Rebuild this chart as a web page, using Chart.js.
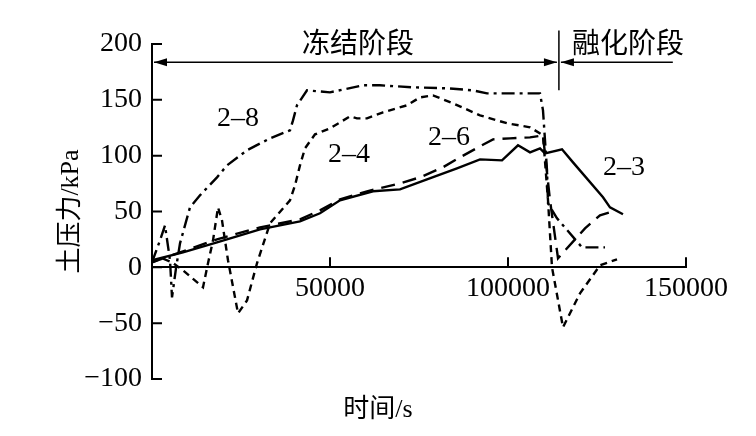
<!DOCTYPE html>
<html>
<head>
<meta charset="utf-8">
<script src="https://cdn.jsdelivr.net/npm/chart.js@4/dist/chart.umd.min.js"></script>
<style>
  html, body { margin: 0; padding: 0; background: #fff; }
</style>
</head>
<body>
<canvas id="chart" width="756" height="436"></canvas>
<script>
// time (s) and earth pressure (kPa)
const T_23 = [0, 8700, 18260, 30340, 38760, 41570, 47190, 52810, 62080, 69660, 77250, 85670, 92140, 98320, 102810, 106180, 108990, 110390, 115170, 118260, 126690, 128650, 132300];
const P_23 = [6.3, 13.4, 22.4, 34.0, 39.4, 41.2, 48.4, 60.0, 68.1, 69.8, 78.8, 88.7, 96.7, 95.8, 109.3, 103.0, 106.6, 102.1, 105.7, 94.0, 62.7, 53.7, 47.5];

const T_26 = [0, 8710, 18260, 30340, 41570, 47190, 52810, 60390, 69660, 75280, 81740, 86520, 92140, 95790, 100560, 106180, 109830, 111800, 114050, 121630, 125840, 128650];
const P_26 = [4.5, 14.3, 25.1, 35.8, 43.0, 51.0, 60.9, 68.1, 75.2, 80.6, 89.6, 98.5, 108.4, 114.6, 115.5, 116.4, 118.2, 60.0, 8.1, 34.9, 46.6, 49.3];

const T_28 = [0, 2250, 3650, 5060, 5620, 6740, 7870, 10670, 13480, 18260, 21070, 26690, 33150, 38770, 39610, 40730, 43540, 49990, 59260, 64040, 73310, 82860, 90160, 94100, 108990, 109830, 110960, 111240, 113770, 120790, 127250];
const P_28 = [4.5, 24.2, 37.6, 6.3, -26.9, -0.9, 21.5, 53.7, 64.5, 80.6, 91.3, 104.8, 115.5, 122.7, 131.6, 145.1, 158.5, 156.7, 163.0, 163.0, 161.2, 160.3, 158.5, 155.8, 155.8, 140.6, 86.8, 57.3, 43.9, 17.9, 17.9];

const T_24 = [0, 2810, 5620, 8710, 14330, 15730, 17140, 18540, 19660, 21350, 24160, 26690, 29490, 33150, 38760, 40170, 41570, 42980, 45790, 50000, 55620, 57590, 60390, 64890, 71630, 75280, 78930, 84550, 92140, 99720, 106180, 109830, 111240, 112360, 115450, 120230, 125840, 130620];
const P_24 = [4.5, 8.1, 4.5, -2.7, -17.9, 3.6, 24.2, 53.7, 42.1, 6.3, -41.2, -29.6, 3.6, 39.4, 60.0, 73.4, 91.3, 106.6, 119.1, 124.5, 135.2, 133.4, 133.4, 138.8, 145.1, 152.2, 154.0, 146.9, 136.1, 129.0, 125.4, 118.2, 60.0, 0, -53.7, -23.3, 1.8, 7.2];

const X_TICKS = [50000, 100000, 150000];
const Y_TICKS = [-100, -50, 0, 50, 100, 150, 200];

// curve names and where they are written (data coords)
const CURVE_LABELS = [
  { text: '2–8', x: 24160, y: 133.4 },
  { text: '2–4', x: 55340, y: 101.2 },
  { text: '2–6', x: 83430, y: 116.4 },
  { text: '2–3', x: 132580, y: 89.6 },
];

// freeze / thaw phases
const PHASES = [
  { text: '冻结阶段', x: 57870 },
  { text: '融化阶段', x: 133700 },
];
const PHASE_SPLIT = 114300;
const PHASE_END = 146300;
const PHASE_ARROW_Y = 183.6;
const PHASE_TEXT_Y = 198.8;
const PHASE_LINE = [158.5, 212];

const X_TITLE = '时间/s';
const FONT = "'Liberation Serif', 'Noto Sans CJK SC', serif";

const pts = (xs, ys) => xs.map((x, i) => ({ x, y: ys[i] }));

function arrowHead(ctx, tx, ty, dir) {
  ctx.beginPath();
  ctx.moveTo(tx, ty);
  ctx.lineTo(tx - dir * 13, ty - 4);
  ctx.lineTo(tx - dir * 13, ty + 4);
  ctx.closePath();
  ctx.fill();
}

const decor = {
  id: 'decor',
  afterDraw(chart) {
    const { ctx, scales: { x, y } } = chart;
    ctx.save();
    ctx.strokeStyle = '#000';
    ctx.fillStyle = '#000';
    ctx.lineWidth = 2;

    // inward tick marks
    const y0 = y.getPixelForValue(0);
    ctx.beginPath();
    X_TICKS.forEach(v => {
      const px = x.getPixelForValue(v);
      ctx.moveTo(px, y0);
      ctx.lineTo(px, y0 - 10);
    });
    Y_TICKS.forEach(v => {
      const py = y.getPixelForValue(v);
      ctx.moveTo(x.left, py);
      ctx.lineTo(x.left + 10, py);
    });
    ctx.stroke();

    // phase arrows
    const ay = y.getPixelForValue(PHASE_ARROW_Y);
    const xs = x.getPixelForValue(PHASE_SPLIT);
    const x0 = x.getPixelForValue(0);
    const xe = x.getPixelForValue(PHASE_END);
    ctx.lineWidth = 1.5;
    ctx.beginPath();
    ctx.moveTo(x0 + 2, ay); ctx.lineTo(xs - 2, ay);
    ctx.moveTo(xs + 2, ay); ctx.lineTo(xe, ay);
    ctx.moveTo(xs, y.getPixelForValue(PHASE_LINE[0]));
    ctx.lineTo(xs, y.getPixelForValue(PHASE_LINE[1]));
    ctx.stroke();
    arrowHead(ctx, x0 + 2, ay, -1);
    arrowHead(ctx, xs - 2, ay, 1);
    arrowHead(ctx, xs + 2, ay, -1);

    ctx.textAlign = 'center';
    ctx.textBaseline = 'middle';
    ctx.font = `28px ${FONT}`;
    PHASES.forEach(p => ctx.fillText(p.text, x.getPixelForValue(p.x), y.getPixelForValue(PHASE_TEXT_Y)));

    ctx.font = `28px ${FONT}`;
    CURVE_LABELS.forEach(l => ctx.fillText(l.text, x.getPixelForValue(l.x), y.getPixelForValue(l.y)));

    // x-axis title, centred on the page like the original
    ctx.font = `26px ${FONT}`;
    ctx.fillText(X_TITLE, chart.width / 2, 410);
    ctx.restore();
  }
};

const line = (data, dash) => ({
  data,
  borderColor: '#000',
  borderWidth: 2.4,
  borderDash: dash,
  pointRadius: 0,
  tension: 0,
  fill: false,
});

new Chart(document.getElementById('chart'), {
  type: 'line',
  data: {
    datasets: [
      line(pts(T_23, P_23), []),
      line(pts(T_26, P_26), [14, 8]),
      line(pts(T_28, P_28), [13, 5, 3, 5]),
      line(pts(T_24, P_24), [7, 5]),
    ],
  },
  options: {
    responsive: false,
    animation: false,
    layout: { padding: { left: 0, top: 44, right: 70, bottom: 57 } },
    plugins: {
      legend: { display: false },
      tooltip: { enabled: false },
    },
    scales: {
      x: {
        type: 'linear',
        position: { y: 0 },
        min: 0,
        max: 150000,
        afterBuildTicks: s => { s.ticks = X_TICKS.map(v => ({ value: v })); },
        grid: { display: false, drawTicks: false },
        border: { display: true, color: '#000', width: 2 },
        ticks: {
          color: '#000',
          padding: 5,
          maxRotation: 0,
          autoSkip: false,
          font: { family: FONT, size: 28 },
          callback: v => String(v),
        },
      },
      y: {
        min: -100,
        max: 200,
        afterFit: s => { s.width = 152; },
        afterBuildTicks: s => { s.ticks = Y_TICKS.map(v => ({ value: v })); },
        grid: { display: false, drawTicks: false },
        border: { display: true, color: '#000', width: 2 },
        ticks: {
          color: '#000',
          padding: 10,
          font: { family: FONT, size: 28 },
          callback: v => String(v).replace('-', '−'),
        },
        title: {
          display: true,
          text: '土压力/kPa',
          color: '#000',
          font: { family: FONT, size: 26 },
          padding: { top: 56, bottom: 0 },
        },
      },
    },
  },
  plugins: [decor],
});
</script>
</body>
</html>
